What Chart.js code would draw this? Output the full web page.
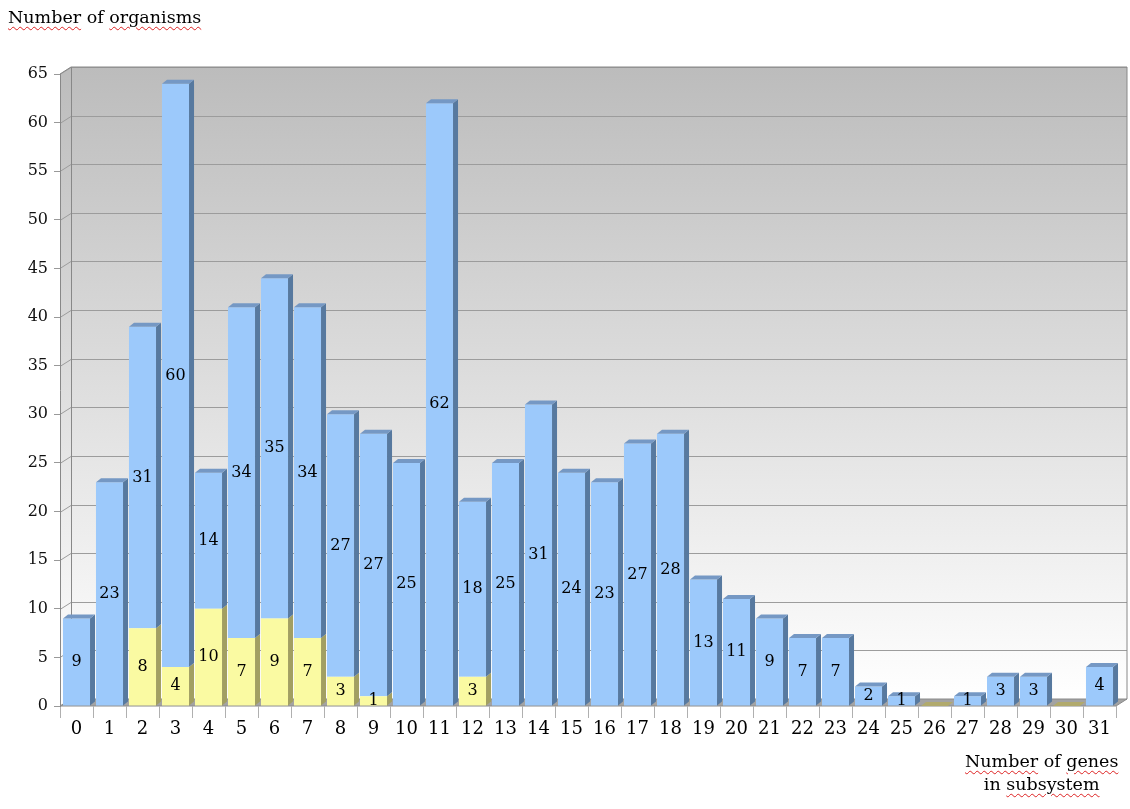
<!DOCTYPE html>
<html>
<head>
<meta charset="utf-8">
<script src="https://cdn.jsdelivr.net/npm/chart.js@4"></script>
<style>
html, body { margin: 0; padding: 0; background: #fff; }
#wrap { position: relative; width: 1130px; height: 809px; }
#chart { position: absolute; left: 0; top: 0; }
.title { position: absolute; font-family: "DejaVu Serif", serif; font-size: 17.5px; color: #000; white-space: nowrap; }
.sp { text-decoration: underline wavy #d22; text-decoration-thickness: 1px; text-underline-offset: 3px; }
</style>
</head>
<body>
<div id="wrap">
    <canvas id="chart" width="1130" height="809"></canvas>
    <div class="title" style="left:8px; top:7px;"><span class="sp">Number</span> of <span class="sp">organisms</span></div>
    <div class="title" style="left:965px; top:750px; text-align:center; line-height:23px;"><span class="sp">Number</span> of <span class="sp">genes</span><br>in <span class="sp">subsystem</span></div>
</div>
<script>
const categories = ['0', '1', '2', '3', '4', '5', '6', '7', '8', '9', '10', '11', '12', '13', '14', '15',
    '16', '17', '18', '19', '20', '21', '22', '23', '24', '25', '26', '27', '28', '29', '30', '31'];
const yellowValues = [0, 0, 8, 4, 10, 7, 9, 7, 3, 1, 0, 0, 3, 0, 0, 0,
    0, 0, 0, 0, 0, 0, 0, 0, 0, 0, 0, 0, 0, 0, 0, 0];
const blueValues = [9, 23, 31, 60, 14, 34, 35, 34, 27, 27, 25, 62, 18, 25, 31, 24,
    23, 27, 28, 13, 11, 9, 7, 7, 2, 1, 0, 1, 3, 3, 0, 4];
const yMax = 65;
const yStep = 5;

const FONT = '"DejaVu Serif", serif';
const DX = 11, DY = 7;   // depth of the walls
const BX = 5, BY = 4;    // depth of the bars

// walls, floor and grid drawn behind the bars
const wallsPlugin = {
    id: 'walls',
    beforeDraw(chart) {
        const ctx = chart.ctx;
        const { left, right, top, bottom } = chart.chartArea;
        const y = chart.scales.y;
        ctx.save();

        const g = ctx.createLinearGradient(0, top - DY, 0, bottom - DY);
        g.addColorStop(0, '#bcbcbc');
        g.addColorStop(1, '#ffffff');

        // left side wall
        ctx.fillStyle = g;
        ctx.beginPath();
        ctx.moveTo(left, top);
        ctx.lineTo(left + DX, top - DY);
        ctx.lineTo(left + DX, bottom - DY);
        ctx.lineTo(left, bottom);
        ctx.closePath();
        ctx.fill();

        // back wall
        ctx.fillRect(left + DX, top - DY, right - left, bottom - top);

        // grid lines on the walls
        ctx.strokeStyle = '#9c9c9c';
        ctx.lineWidth = 1;
        for (let v = 0; v <= yMax; v += yStep) {
            const py = Math.round(y.getPixelForValue(v)) + 0.5;
            ctx.beginPath();
            ctx.moveTo(left, py);
            ctx.lineTo(left + DX, py - DY);
            ctx.lineTo(right + DX, py - DY);
            ctx.stroke();
        }

        // outline of the back wall
        ctx.strokeStyle = '#888';
        ctx.beginPath();
        ctx.moveTo(left, top);
        ctx.lineTo(left + DX, top - DY);
        ctx.lineTo(right + DX, top - DY);
        ctx.lineTo(right + DX, bottom - DY);
        ctx.stroke();
        ctx.beginPath();
        ctx.moveTo(left + DX + 0.5, top - DY);
        ctx.lineTo(left + DX + 0.5, bottom - DY);
        ctx.stroke();

        // floor
        ctx.fillStyle = '#a3a3a3';
        ctx.beginPath();
        ctx.moveTo(left, bottom);
        ctx.lineTo(left + DX, bottom - DY);
        ctx.lineTo(right + DX, bottom - DY);
        ctx.lineTo(right, bottom);
        ctx.closePath();
        ctx.fill();
        ctx.strokeStyle = '#8a8a8a';
        ctx.stroke();

        ctx.restore();
    },
    afterDatasetsDraw(chart) {
        const ctx = chart.ctx;
        const yellowBars = chart.getDatasetMeta(0).data;
        const blueBars = chart.getDatasetMeta(1).data;

        function side(bar, color) {
            const p = bar.getProps(['x', 'y', 'base', 'width'], true);
            const r = p.x + p.width / 2;
            ctx.fillStyle = color;
            ctx.beginPath();
            ctx.moveTo(r, p.y);
            ctx.lineTo(r + BX, p.y - BY);
            ctx.lineTo(r + BX, p.base - BY);
            ctx.lineTo(r, p.base);
            ctx.closePath();
            ctx.fill();
        }
        function topFace(bar, color) {
            const p = bar.getProps(['x', 'y', 'base', 'width'], true);
            const l = p.x - p.width / 2, r = p.x + p.width / 2;
            ctx.fillStyle = color;
            ctx.beginPath();
            ctx.moveTo(l, p.y);
            ctx.lineTo(l + BX, p.y - BY);
            ctx.lineTo(r + BX, p.y - BY);
            ctx.lineTo(r, p.y);
            ctx.closePath();
            ctx.fill();
        }

        ctx.save();
        categories.forEach((c, i) => {
            if (yellowValues[i] > 0) side(yellowBars[i], '#a29f62');
            if (blueValues[i] > 0) {
                side(blueBars[i], '#57799f');
                topFace(blueBars[i], '#7598c4');
            } else {
                topFace(yellowBars[i], yellowValues[i] > 0 ? '#c9c68b' : '#b1aa6d');
            }
        });

        // value labels in the middle of each segment
        ctx.font = '16px ' + FONT;
        ctx.fillStyle = '#000';
        ctx.textAlign = 'center';
        ctx.textBaseline = 'middle';
        [[yellowBars, yellowValues], [blueBars, blueValues]].forEach(([bars, values]) => {
            bars.forEach((bar, i) => {
                if (values[i] <= 0) return;
                const p = bar.getProps(['x', 'y', 'base'], true);
                ctx.fillText(String(values[i]), p.x, (p.y + p.base) / 2);
            });
        });
        ctx.restore();
    }
};

new Chart(document.getElementById('chart'), {
    type: 'bar',
    data: {
        labels: categories,
        datasets: [{
            label: 'yellow',
            data: yellowValues,
            backgroundColor: '#fafaa2',
            borderWidth: 0,
            barPercentage: 0.82,
            categoryPercentage: 1.0
        }, {
            label: 'blue',
            data: blueValues,
            backgroundColor: '#9cc9fb',
            borderWidth: 0,
            barPercentage: 0.82,
            categoryPercentage: 1.0
        }]
    },
    options: {
        responsive: false,
        animation: false,
        layout: { padding: { left: 0, top: 74, right: 14, bottom: 0 } },
        plugins: {
            legend: { display: false },
            tooltip: { enabled: false }
        },
        scales: {
            x: {
                stacked: true,
                grid: { offset: true, drawOnChartArea: false, drawTicks: true, tickLength: 12, color: '#b0b0b0' },
                border: { display: false },
                ticks: { font: { family: FONT, size: 18 }, color: '#000', padding: 1, maxRotation: 0, autoSkip: false },
                afterFit(scale) { scale.height = 103; }
            },
            y: {
                stacked: true,
                min: 0,
                max: yMax,
                ticks: { stepSize: yStep, font: { family: FONT, size: 16 }, color: '#111', padding: 6 },
                grid: { drawOnChartArea: false, tickLength: 6, color: '#999' },
                border: { color: '#888' },
                afterFit(scale) { scale.width = 60; }
            }
        }
    },
    plugins: [wallsPlugin]
});
</script>
</body>
</html>
